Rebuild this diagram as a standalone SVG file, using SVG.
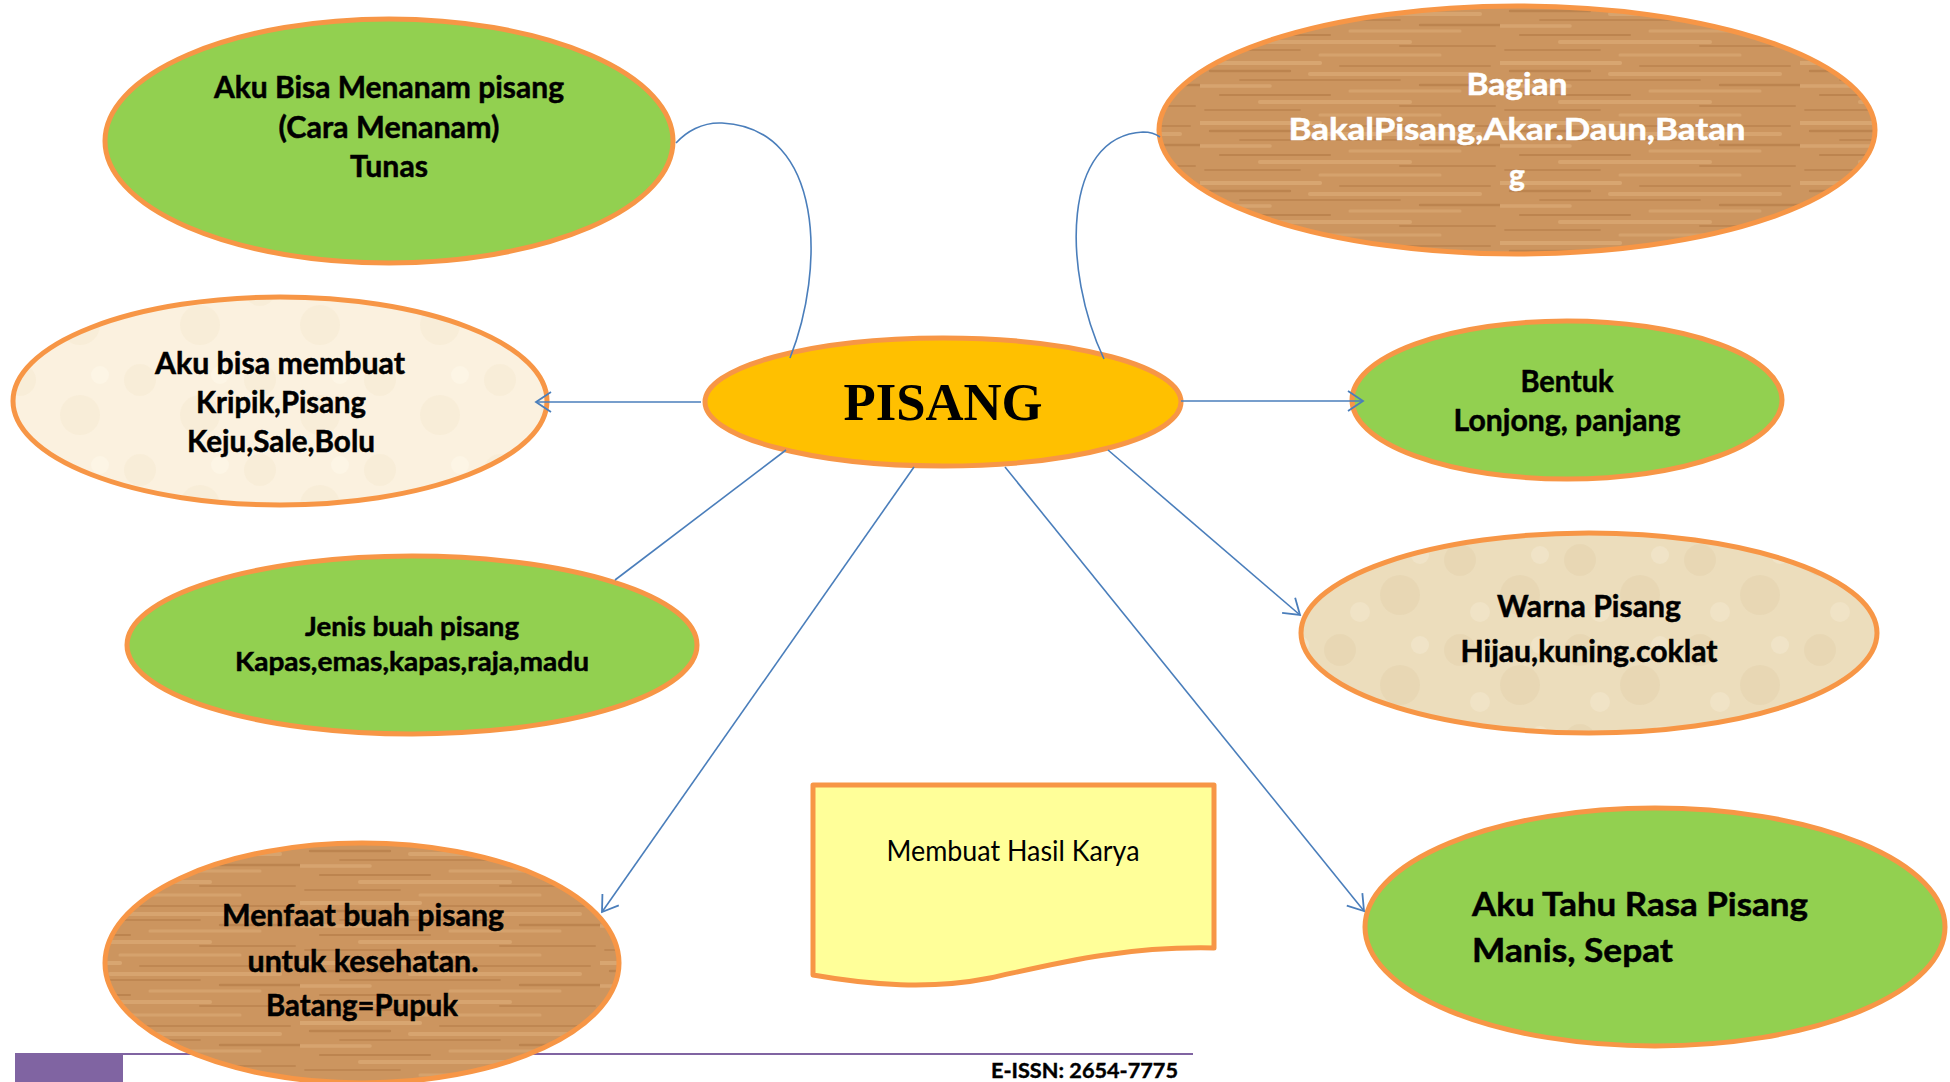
<svg xmlns="http://www.w3.org/2000/svg" width="1950" height="1082" viewBox="0 0 1950 1082">
<defs>
<style>
.nd{stroke:#F79646;stroke-width:5}
.green{fill:#92D050}
.t{font-family:Lato,"Liberation Sans",sans-serif;font-weight:bold;font-size:30px;fill:#000;stroke:#000;stroke-width:0.5;text-anchor:middle}
.w{fill:#fff;stroke:#fff}
.cn{fill:none;stroke:#4A7EBB;stroke-width:1.6}
.dk{stroke:#A66C38;fill:none;stroke-linecap:round}
.lt{stroke:#E4B783;fill:none;stroke-linecap:round}
</style>
<pattern id="wood" patternUnits="userSpaceOnUse" width="300" height="60">
<rect width="300" height="60" fill="#CC955F"/>
<line class="lt" x1="0" y1="3" x2="120" y2="3" stroke-width="4" opacity="0.5"/>
<line class="dk" x1="140" y1="6" x2="290" y2="6" stroke-width="2" opacity="0.35"/>
<line class="dk" x1="10" y1="11" x2="90" y2="11" stroke-width="2.5" opacity="0.4"/>
<line class="lt" x1="110" y1="14" x2="280" y2="14" stroke-width="4" opacity="0.45"/>
<line class="dk" x1="40" y1="20" x2="200" y2="20" stroke-width="1.8" opacity="0.35"/>
<line class="lt" x1="0" y1="26" x2="70" y2="26" stroke-width="3.5" opacity="0.45"/>
<line class="dk" x1="220" y1="25" x2="300" y2="25" stroke-width="2.5" opacity="0.4"/>
<line class="lt" x1="150" y1="31" x2="260" y2="31" stroke-width="3" opacity="0.4"/>
<line class="dk" x1="20" y1="35" x2="130" y2="35" stroke-width="2.2" opacity="0.4"/>
<line class="lt" x1="60" y1="42" x2="210" y2="42" stroke-width="4" opacity="0.45"/>
<line class="dk" x1="200" y1="46" x2="295" y2="46" stroke-width="2" opacity="0.35"/>
<line class="dk" x1="5" y1="50" x2="100" y2="50" stroke-width="1.8" opacity="0.35"/>
<line class="lt" x1="120" y1="55" x2="240" y2="55" stroke-width="3" opacity="0.4"/>
</pattern>
<pattern id="cream" patternUnits="userSpaceOnUse" width="120" height="90">
<rect width="120" height="90" fill="#FBF1DF"/>
<circle cx="20" cy="20" r="16" fill="#F3E5C9" opacity="0.3"/>
<circle cx="80" cy="55" r="20" fill="#F3E5C9" opacity="0.3"/>
<circle cx="100" cy="15" r="9" fill="#FFF9EE" opacity="0.4"/>
</pattern>
<pattern id="beige" patternUnits="userSpaceOnUse" width="120" height="90">
<rect width="120" height="90" fill="#ECDDBC"/>
<circle cx="20" cy="20" r="16" fill="#E0CCA3" opacity="0.3"/>
<circle cx="80" cy="55" r="20" fill="#E0CCA3" opacity="0.3"/>
<circle cx="100" cy="15" r="9" fill="#F5EBD5" opacity="0.45"/>
<circle cx="40" cy="72" r="10" fill="#F5EBD5" opacity="0.4"/>
</pattern>
<marker id="arr" markerUnits="userSpaceOnUse" markerWidth="18" markerHeight="24" refX="15" refY="10" orient="auto" overflow="visible">
<path d="M0 0 L15 10 L0 20" fill="none" stroke="#4A7EBB" stroke-width="1.8"/>
</marker>
</defs>
<rect width="1950" height="1082" fill="#fff"/>

<g id="footer">
<rect x="15" y="1053" width="108" height="29" fill="#8064A2"/>
<line x1="123" y1="1054" x2="1193" y2="1054" stroke="#8064A2" stroke-width="2"/>
<text x="991" y="1078" textLength="187" lengthAdjust="spacingAndGlyphs" style="font-family:Lato,'Liberation Sans',sans-serif;font-weight:bold;font-size:20px;fill:#000;stroke:#000;stroke-width:0.4">E-ISSN: 2654-7775</text>
</g>

<g id="node-pisang">
<ellipse class="nd" cx="943" cy="402" rx="238" ry="64" fill="#FFC000"/>
<text x="943" y="420" text-anchor="middle" textLength="199" lengthAdjust="spacingAndGlyphs" style="font-family:'Liberation Serif',serif;font-weight:bold;font-size:53px;fill:#000">PISANG</text>
</g>

<g id="node-menanam">
<ellipse class="nd green" cx="389" cy="141" rx="284" ry="122"/>
<text class="t" x="389" y="98" textLength="350" lengthAdjust="spacingAndGlyphs">Aku Bisa Menanam pisang</text>
<text class="t" x="389" y="138" textLength="221" lengthAdjust="spacingAndGlyphs">(Cara Menanam)</text>
<text class="t" x="389" y="177" textLength="78" lengthAdjust="spacingAndGlyphs">Tunas</text>
</g>

<g id="node-bagian">
<ellipse class="nd" cx="1517" cy="130" rx="358" ry="124" fill="url(#wood)"/>
<text class="t w" x="1517" y="95" textLength="101" lengthAdjust="spacingAndGlyphs">Bagian</text>
<text class="t w" x="1517" y="140" textLength="457" lengthAdjust="spacingAndGlyphs">BakalPisang,Akar.Daun,Batan</text>
<text class="t w" x="1517" y="186">g</text>
</g>

<g id="node-membuat">
<ellipse class="nd" cx="280" cy="401" rx="267" ry="104" fill="url(#cream)"/>
<text class="t" x="280" y="374" textLength="250" lengthAdjust="spacingAndGlyphs">Aku bisa membuat</text>
<text class="t" x="281" y="413" textLength="170" lengthAdjust="spacingAndGlyphs">Kripik,Pisang</text>
<text class="t" x="281" y="452" textLength="188" lengthAdjust="spacingAndGlyphs">Keju,Sale,Bolu</text>
</g>

<g id="node-bentuk">
<ellipse class="nd green" cx="1567" cy="400" rx="215" ry="79"/>
<text class="t" x="1567" y="392" textLength="93" lengthAdjust="spacingAndGlyphs">Bentuk</text>
<text class="t" x="1567" y="431" textLength="227" lengthAdjust="spacingAndGlyphs">Lonjong, panjang</text>
</g>

<g id="node-jenis">
<ellipse class="nd green" cx="412" cy="645" rx="285" ry="89"/>
<text class="t" x="412" y="636" style="font-size:26px" textLength="214" lengthAdjust="spacingAndGlyphs">Jenis buah pisang</text>
<text class="t" x="412" y="671" style="font-size:26px" textLength="354" lengthAdjust="spacingAndGlyphs">Kapas,emas,kapas,raja,madu</text>
</g>

<g id="node-warna">
<ellipse class="nd" cx="1589" cy="633" rx="288" ry="100" fill="url(#beige)"/>
<text class="t" x="1589" y="617" textLength="184" lengthAdjust="spacingAndGlyphs">Warna Pisang</text>
<text class="t" x="1589" y="662" textLength="257" lengthAdjust="spacingAndGlyphs">Hijau,kuning.coklat</text>
</g>

<g id="node-hasil-karya">
<path d="M813 785 H1214 V948 C1120 946 1050 965 990 978 C930 990 870 985 813 975 Z" fill="#FFFF99" stroke="#F79646" stroke-width="5" stroke-linejoin="round"/>
<text x="1013" y="861" text-anchor="middle" textLength="253" lengthAdjust="spacingAndGlyphs" style="font-family:Lato,'Liberation Sans',sans-serif;font-size:29px;fill:#000">Membuat Hasil Karya</text>
</g>

<g id="node-rasa">
<ellipse class="nd green" cx="1655" cy="927" rx="290" ry="119"/>
<text class="t" x="1472" y="916" style="text-anchor:start;font-size:33px" textLength="336" lengthAdjust="spacingAndGlyphs">Aku Tahu Rasa Pisang</text>
<text class="t" x="1472" y="962" style="text-anchor:start;font-size:33px" textLength="201" lengthAdjust="spacingAndGlyphs">Manis, Sepat</text>
</g>

<g id="node-manfaat">
<ellipse class="nd" cx="362" cy="963" rx="257" ry="120" fill="url(#wood)"/>
<text class="t" x="363" y="926" textLength="282" lengthAdjust="spacingAndGlyphs">Menfaat buah pisang</text>
<text class="t" x="363" y="972" textLength="231" lengthAdjust="spacingAndGlyphs">untuk kesehatan.</text>
<text class="t" x="362" y="1016" textLength="192" lengthAdjust="spacingAndGlyphs">Batang=Pupuk</text>
</g>

<g id="connectors">
<path class="cn" d="M790 358 C825 270 825 128 722 123 C702 122 686 132 676 143"/>
<path class="cn" d="M1104 359 C1062 270 1062 136 1143 132 C1150 132 1156 134 1160 137"/>
<path class="cn" d="M701 402 L536 402" marker-end="url(#arr)"/>
<path class="cn" d="M1181 401 L1363 401" marker-end="url(#arr)"/>
<path class="cn" d="M786 450 L615 580"/>
<path class="cn" d="M914 467 L602 912" marker-end="url(#arr)"/>
<path class="cn" d="M1005 467 L1364 911" marker-end="url(#arr)"/>
<path class="cn" d="M1108 450 L1300 615" marker-end="url(#arr)"/>
</g>
</svg>
